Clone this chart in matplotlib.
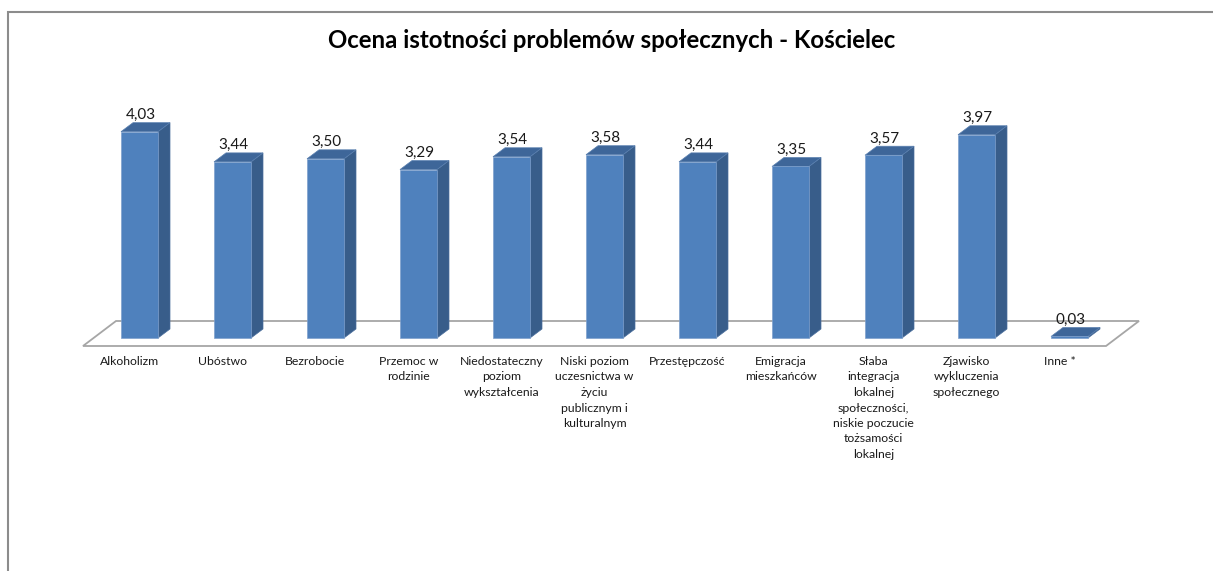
import matplotlib
matplotlib.use("Agg")
import matplotlib.pyplot as plt
from matplotlib.patches import Polygon, Rectangle

# data
categories = [
    "Alkoholizm",
    "Ubóstwo",
    "Bezrobocie",
    "Przemoc w\nrodzinie",
    "Niedostateczny\npoziom\nwykształcenia",
    "Niski poziom\nuczesnictwa w\nżyciu\npublicznym i\nkulturalnym",
    "Przestępczość",
    "Emigracja\nmieszkańców",
    "Słaba\nintegracja\nlokalnej\nspołeczności,\nniskie poczucie\ntożsamości\nlokalnej",
    "Zjawisko\nwykluczenia\nspołecznego",
    "Inne *",
]
values = [4.03, 3.44, 3.50, 3.29, 3.54, 3.58, 3.44, 3.35, 3.57, 3.97, 0.03]
value_labels = ["4,03", "3,44", "3,50", "3,29", "3,54", "3,58", "3,44", "3,35", "3,57", "3,97", "0,03"]

title = "Ocena istotności problemów społecznych - Kościelec"

W, H = 1213, 571
fig = plt.figure(figsize=(W / 100, H / 100), dpi=100)
ax = fig.add_axes([0, 0, 1, 1])

# pixel layout -> data units (1 category = 93 px, 1 value unit = 51.2 px)
px_x, px_y = 93.0, 51.2
x0_px, y0_px = 139.5, 338.0
ax.set_xlim(-x0_px / px_x, (W - x0_px) / px_x)
ax.set_ylim(-(H - y0_px) / px_y, y0_px / px_y)
ax.axis("off")

front = "#4F81BD"
side = "#385D8A"
top = "#3E6699"
half = 18.5 / px_x          # half bar width
ddx, ddy = 12 / px_x, 9 / px_y   # bar depth

# floor (parallelogram)
n = len(values)
fx, fy = -10 / px_x, -8 / px_y      # floor front offset from bar plane
bx, by = 23 / px_x, 17 / px_y       # floor back offset
floor = Polygon([(-0.5 + fx, fy), (n - 0.5 + fx, fy),
                 (n - 0.5 + bx, by), (-0.5 + bx, by)],
                closed=True, facecolor="white", edgecolor="#A6A6A6", lw=1.3, zorder=1)
ax.add_patch(floor)

for i, v in enumerate(values):
    l, r = i - half, i + half
    ax.add_patch(Polygon([(r, 0), (r + ddx, ddy), (r + ddx, v + ddy), (r, v)],
                         facecolor=side, edgecolor="#4A6E9C", lw=0.5, zorder=2))
    ax.add_patch(Polygon([(l, v), (r, v), (r + ddx, v + ddy), (l + ddx, v + ddy)],
                         facecolor=top, edgecolor="#5A80B0", lw=0.5, zorder=2))
    ax.add_patch(Polygon([(l, 0), (r, 0), (r, v), (l, v)],
                         facecolor=front, edgecolor="#7FA0CC", lw=0.5, zorder=3))
    ax.text(i + 0.01, v + ddy + 0.5 / px_y, value_labels[i], ha="center", va="bottom",
            fontsize=11, family="Lato", color="#1a1a1a", zorder=4)
    ax.text(i + fx, -(356 - y0_px) / px_y, categories[i], ha="center", va="top",
            fontsize=8.8, family="Lato", color="#1a1a1a", linespacing=1.5, zorder=4)

ax.text(0.504, 1 - 41 / H, title, transform=fig.transFigure, ha="center", va="center",
        fontsize=17.3, fontweight="bold", family="Lato", color="black")

# chart frame (top and left edges visible)
fig.add_artist(Rectangle((8 / W, -0.1), 1.2, 1 - 12 / H + 0.1, transform=fig.transFigure,
                         fill=False, edgecolor="#8C8C8C", lw=1.5))

fig.savefig("out.png", dpi=100, facecolor="white")
